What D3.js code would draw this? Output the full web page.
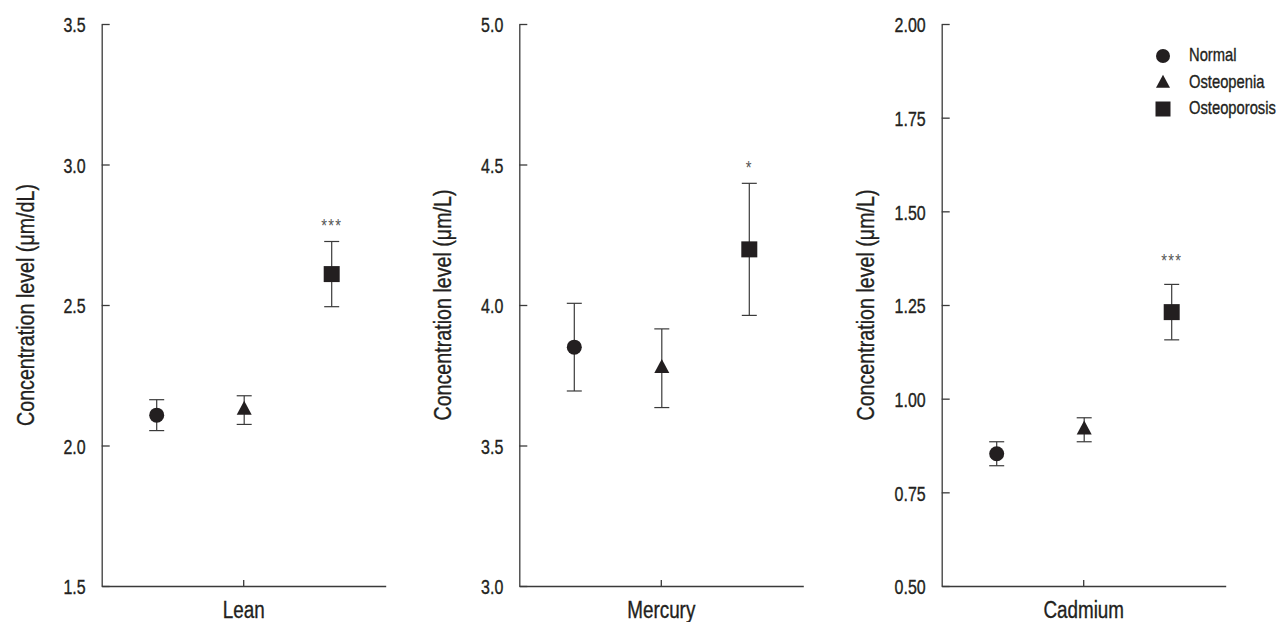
<!DOCTYPE html>
<html>
<head>
<meta charset="utf-8">
<script src="https://cdn.jsdelivr.net/npm/d3@7"></script>
<style>
  html, body { margin: 0; padding: 0; background: #ffffff; }
  svg { display: block; }
  .lbl { font-family: "Liberation Sans", Arial, sans-serif; stroke: #231f20; stroke-width: 0.35px; }
  .sig { font-family: "Liberation Sans", Arial, sans-serif; }
</style>
</head>
<body>
<svg id="chart" width="1282" height="622"></svg>
<script>
// ---- Data ----
const panels = ["Lean", "Mercury", "Cadmium"];
const yTitles = ["Concentration level (μm/dL)", "Concentration level (μm/L)", "Concentration level (μm/L)"];
const groups = ["Normal", "Osteopenia", "Osteoporosis"];
const yDomains = [[1.5, 3.5], [3.0, 5.0], [0.5, 2.0]];
const yTickValues = [
  [1.5, 2.0, 2.5, 3.0, 3.5],
  [3.0, 3.5, 4.0, 4.5, 5.0],
  [0.5, 0.75, 1.0, 1.25, 1.5, 1.75, 2.0]
];
const yTickFormats = [".1f", ".1f", ".2f"];

const leanMean = [2.108, 2.126, 2.610];
const leanErr = [0.055, 0.051, 0.116];
const mercuryMean = [3.850, 3.775, 4.198];
const mercuryErr = [0.156, 0.140, 0.235];
const cadmiumMean = [0.853, 0.917, 1.231];
const cadmiumErr = [0.032, 0.032, 0.074];

const sigLabels = ["***", "*", "***"];
const sigValues = [2.80, 4.506, 1.379];

const means = [leanMean, mercuryMean, cadmiumMean];
const errs = [leanErr, mercuryErr, cadmiumErr];

// ---- Layout ----
const panelLeft = [101.7, 519.3, 941.7];
const panelWidth = 284;
const plotTop = 24, plotBottom = 586;
const ink = "#231f20";
const lineCol = "#3a3a3a";
const squeeze = 0.82; // horizontal condensing of text

const svg = d3.select("#chart");

// condense a text horizontally, keeping its anchor point
function condense(sel, extra) {
  sel.each(function () {
    const t = d3.select(this);
    const x = +t.attr("x") || 0;
    const y = +t.attr("y") || 0;
    t.attr("x", 0).attr("y", 0)
      .attr("transform", `translate(${x},${y})${extra || ""} scale(${squeeze},1)`);
  });
}

function markerPath(group, s) {
  if (group === "Normal") {
    return d3.symbol(d3.symbolCircle, Math.PI * (s / 2) * (s / 2))();
  }
  if (group === "Osteopenia") {
    const w = s, h = s * 0.93;
    return `M0,${-2 * h / 3}L${w / 2},${h / 3}L${-w / 2},${h / 3}Z`;
  }
  const hs = s / 2 + 0.5;
  return `M${-hs},${-hs}H${hs}V${hs}H${-hs}Z`;
}

panels.forEach((name, pi) => {
  const left = panelLeft[pi];
  const g = svg.append("g");

  const y = d3.scaleLinear().domain(yDomains[pi]).range([plotBottom, plotTop]);
  const xOuter = d3.scaleBand().domain([name]).range([left, left + panelWidth]);
  const x = d3.scalePoint().domain(groups).range([left + 55, left + 230]);

  // y axis
  const yAxis = d3.axisLeft(y)
    .tickValues(yTickValues[pi])
    .tickFormat(d3.format(yTickFormats[pi]))
    .tickSizeInner(-8)
    .tickSizeOuter(0)
    .tickPadding(16);
  const yg = g.append("g").attr("transform", `translate(${left},0)`).call(yAxis);
  yg.select(".domain").attr("stroke", lineCol).attr("stroke-width", 1.3);
  yg.selectAll(".tick line").attr("stroke", lineCol).attr("stroke-width", 1.3);
  yg.selectAll(".tick text")
    .attr("class", "lbl")
    .attr("font-size", 19.5)
    .attr("fill", ink)
    .attr("dy", "0.40em")
    .call(condense);

  // x axis
  const xAxis = d3.axisBottom(xOuter)
    .tickSizeInner(-6)
    .tickSizeOuter(0)
    .tickPadding(16);
  const xg = g.append("g").attr("transform", `translate(0,${plotBottom})`).call(xAxis);
  xg.select(".domain").attr("stroke", lineCol).attr("stroke-width", 1.3);
  xg.selectAll(".tick line").attr("stroke", lineCol).attr("stroke-width", 1.3);
  xg.selectAll(".tick text")
    .attr("class", "lbl")
    .attr("font-size", 23)
    .attr("fill", ink)
    .call(condense);

  // y title
  g.append("text")
    .attr("class", "lbl")
    .attr("x", left - 68)
    .attr("y", (plotTop + plotBottom) / 2)
    .attr("text-anchor", "middle")
    .attr("font-size", 24)
    .attr("fill", ink)
    .text(yTitles[pi])
    .call(condense, " rotate(-90)");

  // error bars + markers
  const data = groups.map((grp, i) => ({ grp, m: means[pi][i], e: errs[pi][i] }));
  const cap = 7.5;
  const eb = g.append("g").selectAll("g").data(data).join("g");
  eb.append("line")
    .attr("x1", d => x(d.grp)).attr("x2", d => x(d.grp))
    .attr("y1", d => y(d.m + d.e)).attr("y2", d => y(d.m - d.e))
    .attr("stroke", lineCol).attr("stroke-width", 1.2);
  eb.append("line")
    .attr("x1", d => x(d.grp) - cap).attr("x2", d => x(d.grp) + cap)
    .attr("y1", d => y(d.m + d.e)).attr("y2", d => y(d.m + d.e))
    .attr("stroke", lineCol).attr("stroke-width", 1.2);
  eb.append("line")
    .attr("x1", d => x(d.grp) - cap).attr("x2", d => x(d.grp) + cap)
    .attr("y1", d => y(d.m - d.e)).attr("y2", d => y(d.m - d.e))
    .attr("stroke", lineCol).attr("stroke-width", 1.2);
  eb.append("path")
    .attr("transform", d => `translate(${x(d.grp)},${y(d.m)})`)
    .attr("d", d => markerPath(d.grp, 15))
    .attr("fill", ink);

  // significance
  g.append("text")
    .attr("class", "sig")
    .attr("x", x(groups[2]))
    .attr("y", y(sigValues[pi]))
    .attr("dy", "0.6em")
    .attr("text-anchor", "middle")
    .attr("font-size", 18)
    .attr("letter-spacing", 1.5)
    .attr("fill", "#555")
    .text(sigLabels[pi])
    .call(condense);
});

// legend
const legend = svg.append("g").attr("transform", "translate(1163,56)");
const rows = legend.selectAll("g").data(groups).join("g")
  .attr("transform", (d, i) => `translate(0,${i * 26.5})`);
rows.append("path")
  .attr("d", d => markerPath(d, 14))
  .attr("transform", d => d === "Osteopenia" ? "translate(0,1)" : null)
  .attr("fill", ink);
rows.append("text")
  .attr("class", "lbl")
  .attr("x", 26)
  .attr("y", 5)
  .attr("font-size", 18)
  .attr("fill", ink)
  .text(d => d)
  .call(condense);
</script>
</body>
</html>
